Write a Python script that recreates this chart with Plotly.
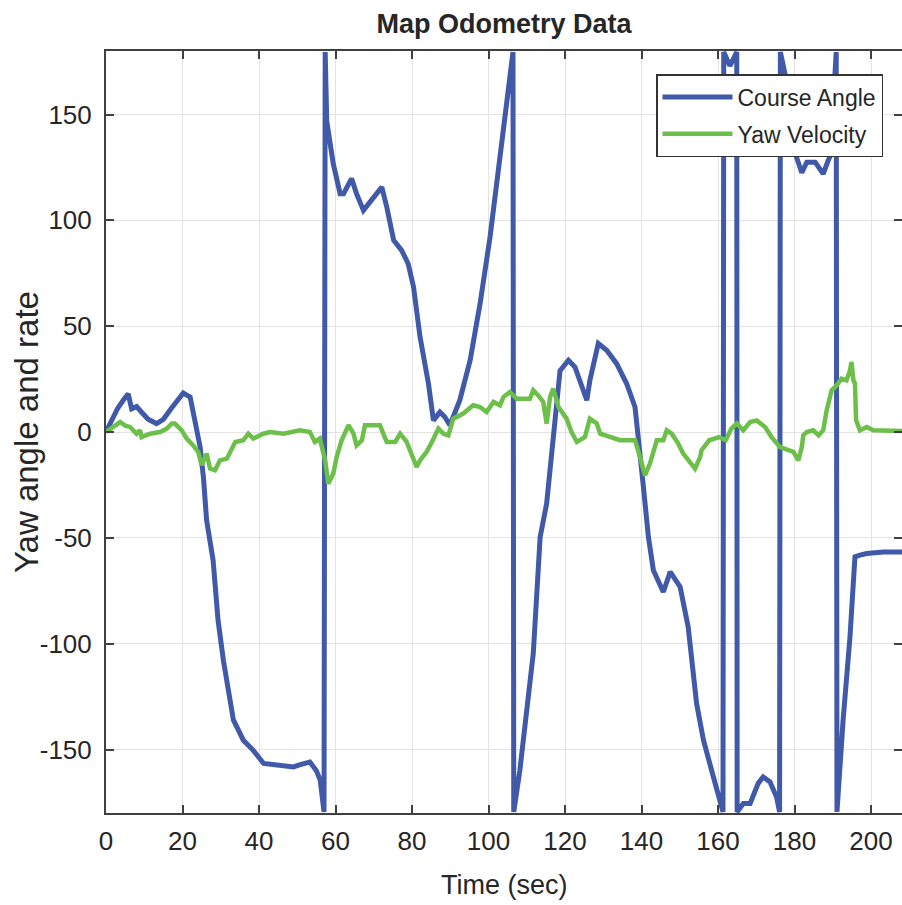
import plotly.graph_objects as go

# Course angle (deg) vs time (s)
course_t = [0, 1.5, 3, 4.5, 5.8, 6.7, 8, 9.5, 11, 13.2, 15, 17, 19, 20.2, 22, 23.3, 24.6, 25.5,
            26.3, 28.0, 29.3, 30.7, 32.4, 33.3, 35.9, 38.5, 41.2, 45, 49, 51, 53.3, 55, 56, 57.0,
            57.3, 57.7, 59.4, 61.2, 62.1, 64.2, 65.5, 67.3, 69.9, 72.1, 73.4, 75.2, 77.3, 79, 80.4,
            82.1, 84.3, 85.6, 87.3, 88.6, 89.9, 92.5, 95.2, 97.8, 100.4, 103, 105, 106.4,
            106.6, 108.2, 111.7, 113.5, 115.2, 117.4, 118.7, 120.9, 122.6, 125.7, 126.5, 128.7,
            130.9, 133.5, 136.1, 138.3, 139.6, 140.5, 141.8, 143.1, 145.7, 147.5, 150.1, 152.2,
            154.4, 156.2, 158.8, 161.3,
            161.5, 163.1, 164.9,
            165.0, 166.6, 168.4, 170.5, 171.8, 173.6, 175.3, 176.1,
            176.3, 177.5, 179, 180.5, 181.9, 183.2, 185.4, 187.5, 188.8, 189.5, 190.3, 190.9,
            191.1, 192.7, 194.5, 195.8, 197.1, 198.9, 203.2, 208.1]
course_angle = [0, 6, 11, 15, 18, 11, 12, 9, 6, 4, 6, 11, 16, 18.4, 16.5, 5, -7, -22,
                -41.7, -60.6, -89, -108, -128, -136, -145.6, -150.4, -156.6, -157.5, -158.2, -157, -155.9, -160, -164.5, -179.5,
                179.5, 147, 126.8, 112.6, 112.6, 119.7, 112.6, 104.7, 111, 115.7, 106.3, 90.6, 85.8, 79.5, 68.5,
                44.9, 22.9, 5.5, 9.4, 7.1, 3.2, 15, 33.9, 60.7, 92.1, 130, 160, 179.5,
                -179.5, -159.8, -104.7, -49.6, -33.8, 5.5, 29, 33.9, 30.7, 15, 24.4, 41.8,
                38.6, 32.3, 22.9, 11.8, -8.6, -26, -49.6, -65.3, -75.6, -66.1, -73.2, -92.1,
                -128.3, -145.6, -163, -179.5,
                179.5, 173, 179.5,
                -179.5, -175.5, -175.5, -166, -163, -165.3, -172.4, -179.5,
                179.5, 169.3, 150, 129.9, 122.5, 127.5, 127.5, 122, 128.3, 131, 160, 179.5,
                -179.5, -136.2, -96.8, -59, -58.2, -57.4, -56.7, -56.7]

# Yaw velocity (deg/s) vs time (s)
yaw_t = [0, 1.5, 3.7, 5, 6.3, 8, 8.9, 9.3, 11.5, 14.1, 15.9, 17.2, 18, 19.8, 21.1, 22.8, 24.1, 25,
         26.3, 27.2, 28.5, 29.8, 31.6, 33.8, 35.9, 37.2, 38.5, 41.1, 42.9, 46.4, 49, 50.7, 53.3,
         54.6, 55.9, 57.3, 58.1, 59.4, 60.3, 61.6, 63.4, 64.7, 65.5, 66.9, 67.7, 71.6, 72.5, 73.4,
         75.6, 76.9, 78.6, 79.9, 81.2, 82.1, 83.8, 85.2, 86.9, 88.2, 89.5, 90.8, 93.4, 96, 97.8,
         99.5, 101.3, 103, 103.9, 105.6, 107.4, 110.8, 111.7, 113, 114.3, 115.2, 116.1, 116.9,
         118.3, 120.4, 121.7, 123.1, 125.2, 126.5, 128.3, 129.2, 131.8, 134.4, 137, 138.3, 139.6,
         140.9, 142.2, 143.1, 144, 145.7, 146.6, 147.9, 149.6, 150.9, 153.1, 154, 155.3, 155.7,
         157.7, 160.3, 162, 163.5, 164.9, 166.6, 168.4, 170.1, 172.3, 174, 176.2, 178.4, 179.7,
         181, 181.9, 182.3, 183.2, 184.9, 186.3, 187.5, 188.4, 189.7, 191, 192.3, 193.6, 194.5,
         194.9, 195.4, 195.8, 196.1, 197.1, 198.9, 200.6, 208.1]
yaw_rate = [0, 2, 4.7, 3, 2.4, -0.8, 0.8, -2.4, -0.8, 0, 1.6, 4, 4, 0.8, -3.1, -6.3, -9.4, -15.7,
            -10.2, -17.3, -18.1, -13.4, -12.6, -4.7, -3.9, -0.8, -3.1, -0.8, 0, -0.8, 0, 0.8, 0,
            -4.7, -3.1, -13.4, -24.4, -19.7, -11.8, -3.9, 3.2, -0.8, -6.3, -3.9, 3.2, 3.2, -0.8, -4.7,
            -4.7, -0.8, -4.7, -11, -16.5, -13.4, -9.4, -4.7, 1.6, -0.8, -1.6, 6.3, 8.7, 12.6, 11.8,
            9.4, 14.2, 12.6, 16.5, 18.9, 15.7, 15.7, 19.7, 17.3, 14.2, 4, 16.5, 20.5,
            11.8, 6.3, 0, -4.7, -2.4, 6.3, 4, -0.8, -2.4, -3.9, -3.9, -3.9, -11.8,
            -20.5, -14.9, -10.2, -3.9, -3.9, 0.8, -0.8, -5.5, -10.2, -14.9, -17.3, -12, -8.6,
            -3.9, -2.4, -3.9, 1.6, 4, 0.8, 4.7, 5.5, 2.4, -2.4, -7.1, -8.6, -9.4,
            -13.4, -7.1, -1.6, 0, 0.8, -1.6, 0.8, 10.2, 19.7, 22, 25.2, 24.4, 29.1,
            33.1, 24.4, 22.9, 5.5, 0.8, 2.4, 0.8, 0.5]

x_ticks = [0, 20, 40, 60, 80, 100, 120, 140, 160, 180, 200]
y_ticks = [-150, -100, -50, 0, 50, 100, 150]
y_tick_labels = ["-150", "-100", "-50", "0", "50", "100", "150"]

BLUE = "#4059A9"
GREEN = "#6CC04A"
FONT = "Liberation Sans, Arial, Helvetica, sans-serif"
AX = "#404040"
TXT = "#262626"

W, H = 902, 905
PL, PT, PW, PH = 106, 51, 796, 762  # plot area in pixels

fig = go.Figure()
fig.add_trace(go.Scatter(x=course_t, y=course_angle, mode="lines", name="Course Angle",
                         legendgroup="a", line=dict(color=BLUE, width=5)))
fig.add_trace(go.Scatter(x=yaw_t, y=yaw_rate, mode="lines", name="Yaw Velocity",
                         legendgroup="b", line=dict(color=GREEN, width=4.5)))

fig.update_layout(
    width=W, height=H,
    margin=dict(l=PL, r=0, t=PT, b=H - PT - PH, autoexpand=False),
    paper_bgcolor="white", plot_bgcolor="white",
    title=dict(text="<b>Map Odometry Data</b>", x=0.5, xref="paper", xanchor="center",
               y=1 - 24 / H, yref="container", yanchor="middle",
               font=dict(family=FONT, size=27, color=TXT)),
    legend=dict(x=(656 - PL) / PW, y=(PT + PH - 74) / PH, xanchor="left", yanchor="top",
                bgcolor="white", bordercolor="#333333", borderwidth=1.5,
                font=dict(family=FONT, size=23, color=TXT), itemwidth=70,
                tracegroupgap=4),
    showlegend=True,
    annotations=[
        dict(text="Time (sec)", xref="paper", yref="paper", x=0.5, y=(PT + PH - 885) / PH,
             xanchor="center", yanchor="middle", showarrow=False,
             font=dict(family=FONT, size=27, color=TXT)),
        dict(text="Yaw angle and rate", xref="paper", yref="paper", x=(26 - PL) / PW, y=0.5,
             xanchor="center", yanchor="middle", textangle=-90, showarrow=False,
             font=dict(family=FONT, size=33, color=TXT)),
    ],
)
fig.update_xaxes(
    range=[0, 208.1], tickvals=x_ticks, ticks="inside", ticklen=8, tickwidth=1.5,
    tickcolor=AX, showline=True, linecolor=AX, linewidth=2, mirror="ticks",
    showgrid=True, gridcolor="#e3e3e3", gridwidth=1, zeroline=False, automargin=False,
    tickfont=dict(family=FONT, size=26, color=TXT), ticklabelstandoff=4,
)
fig.update_yaxes(
    range=[-180, 180], tickvals=y_ticks, ticktext=y_tick_labels, ticks="inside", ticklen=8,
    tickwidth=1.5, tickcolor=AX, showline=True, linecolor=AX, linewidth=2, mirror="ticks",
    showgrid=True, gridcolor="#e3e3e3", gridwidth=1, zeroline=False, automargin=False,
    tickfont=dict(family=FONT, size=26, color=TXT), ticklabelstandoff=7,
)

fig.write_html(
    "out.html",
    config={"displayModeBar": False},
    post_script=("document.documentElement.style.margin='0';document.body.style.margin='0';"
                 "document.documentElement.style.overflow='hidden';document.body.style.overflow='hidden';"),
)
